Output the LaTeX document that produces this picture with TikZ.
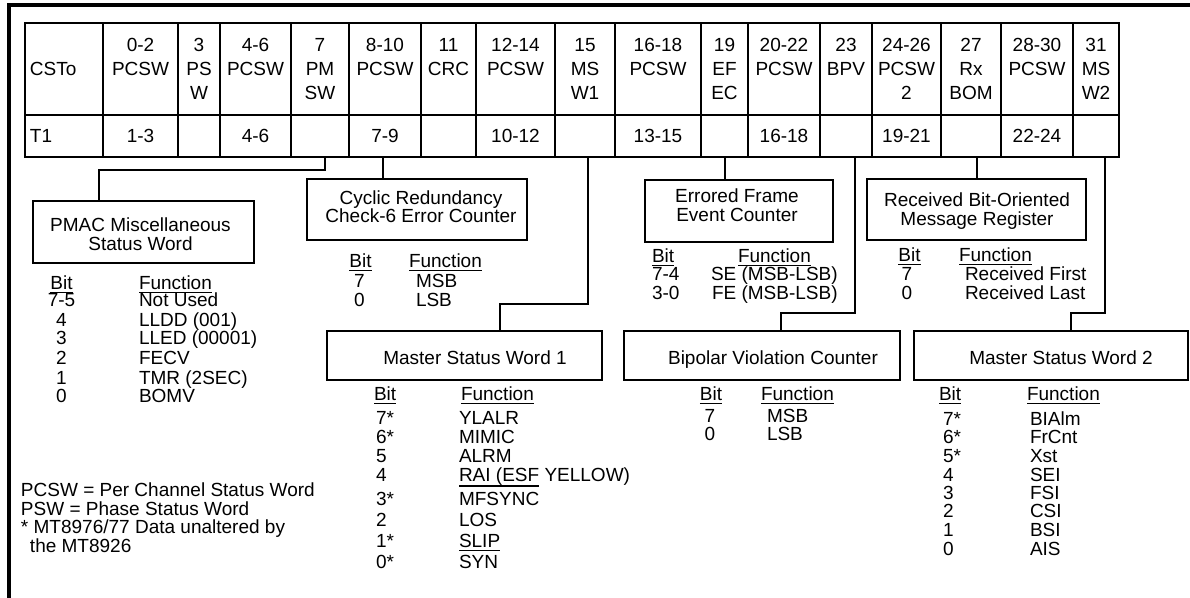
\documentclass[tikz,border=0pt]{standalone}
\usepackage{fontspec}
\setmainfont{Liberation Sans}
\usetikzlibrary{fit}
\newcommand{\myul}[1]{\setbox0\hbox{#1}\rlap{\rule[-2.6pt]{\wd0}{1.2pt}}\box0\relax}
\newcommand{\myulb}[1]{\setbox0\hbox{#1}\rlap{\rule[-3.6pt]{\wd0}{1.2pt}}\box0\relax}
\newcommand{\hcell}[5]{%
  \node[tx] (#1a) at (#2,52) {#3};
  \node[tx] (#1b) at (#2,76) {#4};
  \node[tx] (#1c) at (#2,100) {#5};}
\begin{document}
\begin{tikzpicture}[x=0.75pt,y=-0.75pt,line width=1.5pt,
  every node/.style={font=\fontsize{14.25pt}{14.25pt}\selectfont, inner sep=0pt},
  tx/.style={anchor=base},
  tl/.style={anchor=base west},
  box/.style={draw, line width=1.5pt, inner sep=0pt},
  wire/.style={line width=1.5pt}]
\useasboundingbox (0,0) rectangle (1190,598);
% outer frame (top and left only)
\draw[line width=3pt] (9,602) -- (9,5) -- (1194,5);
% table grid
\draw (25,23) rectangle (1119,157);
\draw (25,115) -- (1119,115);
\foreach \x in {103,178,220,291,349,421,476,555,615,701,748,820,872,941,1001,1073}
  \draw (\x,23) -- (\x,157);
% header texts
\node[tl] (csto) at (29,76) {CSTo};
\hcell{h2}{140.5}{0-2}{PCSW}{}
\hcell{h3}{199}{3}{PS}{W}
\hcell{h4}{255.5}{4-6}{PCSW}{}
\hcell{h5}{320}{7}{PM}{SW}
\hcell{h6}{385}{8-10}{PCSW}{}
\hcell{h7}{448.5}{11}{CRC}{}
\hcell{h8}{515.5}{12-14}{PCSW}{}
\hcell{h9}{585}{15}{MS}{W1}
\hcell{h10}{658}{16-18}{PCSW}{}
\hcell{h11}{724.5}{19}{EF}{EC}
\hcell{h12}{784}{20-22}{PCSW}{}
\hcell{h13}{846}{23}{BPV}{}
\hcell{h14}{906.5}{24-26}{PCSW}{2}
\hcell{h15}{971}{27}{Rx}{BOM}
\hcell{h16}{1037}{28-30}{PCSW}{}
\hcell{h17}{1096}{31}{MS}{W2}
% second row
\node[tl] (t1) at (29,143) {T1};
\node[tx] (r2) at (140.5,143) {1-3};
\node[tx] (r4) at (255.5,143) {4-6};
\node[tx] (r6) at (385,143) {7-9};
\node[tx] (r8) at (515.5,143) {10-12};
\node[tx] (r10) at (658,143) {13-15};
\node[tx] (r12) at (784,143) {16-18};
\node[tx] (r14) at (906.5,143) {19-21};
\node[tx] (r16) at (1037,143) {22-24};
% boxes
\node[box, fit={(33,201) (254,263)}] (pmac) {};
\node[box, fit={(307,179) (527,240)}] (crc) {};
\node[box, fit={(645,180) (833,242)}] (efec) {};
\node[box, fit={(867,179) (1086,240)}] (rx) {};
\node[box, fit={(327,331) (602,380)}] (msw1) {};
\node[box, fit={(624,331) (900,380)}] (bpv) {};
\node[box, fit={(914,331) (1188,380)}] (msw2) {};
% box titles
\node[tx] (pmacA) at (140.5,232) {PMAC Miscellaneous};
\node[tx] (pmacB) at (140.5,251) {Status Word};
\node[tx] (crcA) at (421,205) {Cyclic Redundancy};
\node[tx] (crcB) at (421,223) {Check-6 Error Counter};
\node[tx] (efecA) at (737,203) {Errored Frame};
\node[tx] (efecB) at (737,222) {Event Counter};
\node[tx] (rxA) at (977,207) {Received Bit-Oriented};
\node[tx] (rxB) at (977,226) {Message Register};
\node[tx] (msw1A) at (475,365) {Master Status Word 1};
\node[tx] (bpvA) at (773,365) {Bipolar Violation Counter};
\node[tx] (msw2A) at (1061,365) {Master Status Word 2};
% connectors
\coordinate (t7) at (325,157);
\coordinate (t11) at (383,157);
\coordinate (t15) at (588,157);
\coordinate (t19) at (725,157);
\coordinate (t23) at (855,157);
\coordinate (t27) at (977,157);
\coordinate (t31) at (1105,157);
\coordinate (pmj) at (99,170);
\coordinate (m1j) at (500,304);
\coordinate (bpj) at (781,313);
\coordinate (m2j) at (1071,313);
\draw[wire] (t7) |- (pmj) -- (pmj |- pmac.north);
\draw[wire] (t11) -- (t11 |- crc.north);
\draw[wire] (t15) |- (m1j) -- (m1j |- msw1.north);
\draw[wire] (t19) -- (t19 |- efec.north);
\draw[wire] (t23) |- (bpj) -- (bpj |- bpv.north);
\draw[wire] (t27) -- (t27 |- rx.north);
\draw[wire] (t31) |- (m2j) -- (m2j |- msw2.north);
% PMAC bit table
\node[tx] (pb0) at (61.5,290) {\myul{Bit}};
\node[tl] (pf0) at (138,290) {\myul{Function}};
\foreach \b/\f/\y [count=\i] in {7-5/Not Used/307, 4/LLDD (001)/327, 3/LLED (00001)/345, 2/FECV/365, 1/TMR (2SEC)/385, 0/BOMV/403}{
  \node[tx] (pb\i) at (61.5,\y) {\b};
  \node[tl] (pf\i) at (138,\y) {\f};}
% CRC bit table
\node[tx] (cb0) at (360.5,268) {\myul{Bit}};
\node[tl] (cf0) at (408,268) {\myul{Function}};
\node[tx] (cb1) at (359.5,288) {7};
\node[tl] (cf1) at (415,288) {MSB};
\node[tx] (cb2) at (359.5,307) {0};
\node[tl] (cf2) at (415,307) {LSB};
% EFEC bit table
\node[tl] (eb0) at (651,263) {\myul{Bit}};
\node[tl] (ef0) at (737,263) {\myul{Function}};
\node[tl] (eb1) at (651,281) {7-4};
\node[tl] (ef1) at (710,281) {SE (MSB-LSB)};
\node[tl] (eb2) at (651,300) {3-0};
\node[tl] (ef2) at (711,300) {FE (MSB-LSB)};
% RxBOM bit table
\node[tx] (xb0) at (909.5,262) {\myul{Bit}};
\node[tl] (xf0) at (958,262) {\myul{Function}};
\node[tx] (xb1) at (907,281) {7};
\node[tl] (xf1) at (964,281) {Received First};
\node[tx] (xb2) at (907,300) {0};
\node[tl] (xf2) at (964,300) {Received Last};
% MSW1 bit table
\node[tl] (mb0) at (373,401) {\myul{Bit}};
\node[tl] (mf0) at (460,401) {\myul{Function}};
\foreach \b/\f/\y [count=\i] in {7*/YLALR/425, 6*/MIMIC/444, 5/ALRM/463, 4/{\myulb{RAI (ESF}\ YELLOW)}/482, 3*/MFSYNC/506, 2/LOS/527, 1*/\myul{SLIP}/548, 0*/SYN/569}{
  \node[tl] (mb\i) at (375,\y) {\b};
  \node[tl] (mf\i) at (458,\y) {\f};}
% BPV bit table
\node[tx] (bb0) at (711,401) {\myul{Bit}};
\node[tl] (bf0) at (760,401) {\myul{Function}};
\node[tx] (bb1) at (710,423) {7};
\node[tl] (bf1) at (766,423) {MSB};
\node[tx] (bb2) at (710,441) {0};
\node[tl] (bf2) at (766,441) {LSB};
% MSW2 bit table
\node[tl] (nb0) at (938,401) {\myul{Bit}};
\node[tl] (nf0) at (1026,401) {\myul{Function}};
\foreach \b/\f/\y [count=\i] in {7*/BIAlm/426, 6*/FrCnt/444, 5*/Xst/463, 4/SEI/482, 3/FSI/500, 2/CSI/518, 1/BSI/537, 0/AIS/556}{
  \node[tl] (nb\i) at (942,\y) {\b};
  \node[tl] (nf\i) at (1029,\y) {\f};}
% legend
\node[tl] (lg1) at (20,497) {PCSW = Per Channel Status Word};
\node[tl] (lg2) at (20,516) {PSW = Phase Status Word};
\node[tl] (lg3) at (20,534) {* MT8976/77 Data unaltered by};
\node[tl] (lg4) at (29,553) {the MT8926};
\end{tikzpicture}
\end{document}
